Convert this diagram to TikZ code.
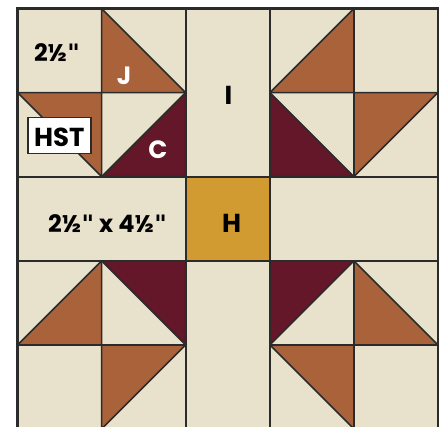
\documentclass[tikz,border=0pt]{standalone}
\usepackage{fontspec}
\setmainfont{Poppins}
\newfontfamily\quotefont{DejaVu Sans}
\newcommand{\inch}{{\quotefont\bfseries"}}
\definecolor{cream}{HTML}{E8E1CB}
\definecolor{rust}{HTML}{AA623A}
\definecolor{wine}{HTML}{631728}
\definecolor{gold}{HTML}{D29B32}
\definecolor{seam}{HTML}{2B2B2B}
\tikzset{
  rusttri/.style={fill=rust, draw=seam, line width=1.6pt, line join=round},
  winetri/.style={fill=wine, draw=seam, line width=1.6pt, line join=round},
  seamline/.style={draw=seam, line width=1.6pt},
  lbl/.style={anchor=base, inner sep=0pt, font=\fontsize{24}{24}\selectfont\bfseries},
  wlbl/.style={anchor=base, inner sep=0pt, text=white, font=\fontsize{25}{25}\selectfont\bfseries},
  blbl/.style={anchor=base, inner sep=0pt, font=\fontsize{26}{26}\selectfont\bfseries}
}
\begin{document}
\begin{tikzpicture}[x=1pt,y=-1pt]
\useasboundingbox (0,0) rectangle (439,426);
\begin{scope}
\clip (0,0) rectangle (439,426);
% background
\fill[cream] (17.5,8.5) rectangle (438,429);
% gold center
\fill[gold] (185.7,176.7) rectangle (269.8,260.8);
% rust triangles
\filldraw[rusttri] (101.6,8.5) -- (101.6,92.6) -- (185.7,92.6) -- cycle;
\filldraw[rusttri] (17.5,92.6) -- (101.6,92.6) -- (101.6,176.7) -- cycle;
\filldraw[rusttri] (353.9,8.5) -- (353.9,92.6) -- (269.8,92.6) -- cycle;
\filldraw[rusttri] (353.9,92.6) -- (438,92.6) -- (353.9,176.7) -- cycle;
\filldraw[rusttri] (101.6,260.8) -- (101.6,344.9) -- (17.5,344.9) -- cycle;
\filldraw[rusttri] (101.6,344.9) -- (185.7,344.9) -- (101.6,429) -- cycle;
\filldraw[rusttri] (353.9,260.8) -- (353.9,344.9) -- (438,344.9) -- cycle;
\filldraw[rusttri] (269.8,344.9) -- (353.9,344.9) -- (353.9,429) -- cycle;
% wine triangles
\filldraw[winetri] (185.7,92.6) -- (185.7,176.7) -- (101.6,176.7) -- cycle;
\filldraw[winetri] (269.8,92.6) -- (269.8,176.7) -- (353.9,176.7) -- cycle;
\filldraw[winetri] (101.6,260.8) -- (185.7,260.8) -- (185.7,344.9) -- cycle;
\filldraw[winetri] (269.8,260.8) -- (353.9,260.8) -- (269.8,344.9) -- cycle;
% seams
\draw[seamline] (101.6,8.5) -- (101.6,176.7);
\draw[seamline] (101.6,260.8) -- (101.6,429);
\draw[seamline] (185.7,8.5) -- (185.7,429);
\draw[seamline] (269.8,8.5) -- (269.8,429);
\draw[seamline] (353.9,8.5) -- (353.9,176.7);
\draw[seamline] (353.9,260.8) -- (353.9,429);
\draw[seamline] (17.5,92.6) -- (185.7,92.6);
\draw[seamline] (269.8,92.6) -- (438,92.6);
\draw[seamline] (17.5,176.7) -- (438,176.7);
\draw[seamline] (17.5,260.8) -- (438,260.8);
\draw[seamline] (17.5,344.9) -- (185.7,344.9);
\draw[seamline] (269.8,344.9) -- (438,344.9);
% outer border
\draw[draw=seam, line width=2.6pt] (17.5,429) -- (17.5,8.5) -- (438,8.5) -- (438,429);
\end{scope}
% labels
\node[lbl] (sq) at (57,61.7) {2½\inch};
\node[lbl] (rect) at (107.5,232) {2½\inch{} x 4½\inch};
\node[wlbl] (j) at (124,84.3) {J};
\node[wlbl] (c) at (158,158) {C};
\node[blbl] (i) at (228.5,104) {I};
\node[blbl] (h) at (231.7,232) {H};
\node[draw=seam, line width=1.8pt, fill=white, minimum width=63pt, minimum height=36pt, inner sep=0pt] (hstbox) at (59.7,135.5) {};
\node[blbl] (hst) at (59.4,146) {HST};
\end{tikzpicture}
\end{document}
